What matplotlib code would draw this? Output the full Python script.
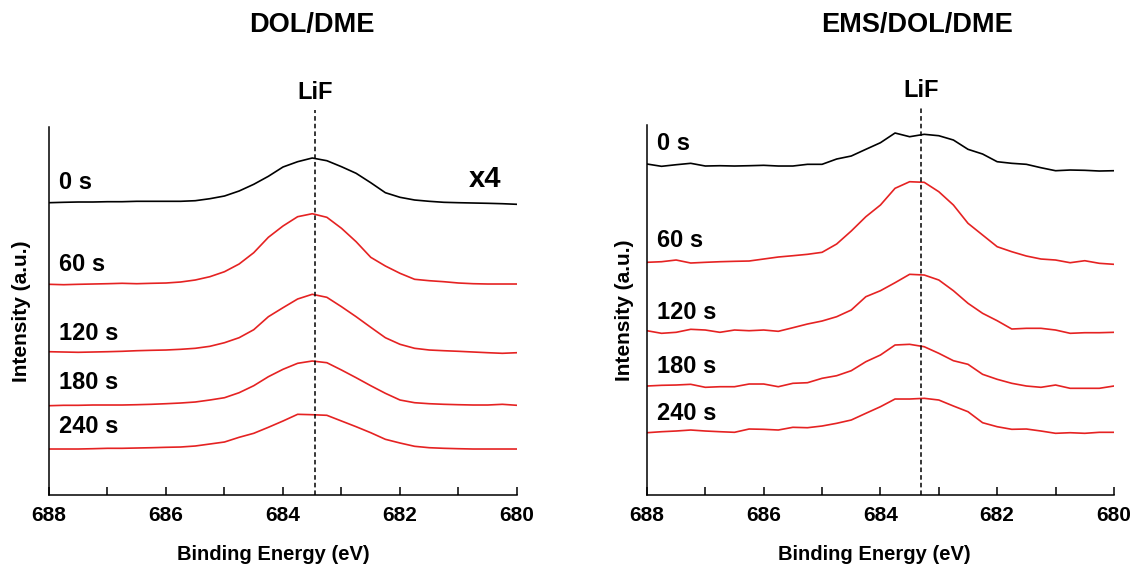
import matplotlib.pyplot as plt
import numpy as np

plt.rcParams['font.family'] = ['Liberation Sans', 'DejaVu Sans']
plt.rcParams['font.weight'] = 'bold'

# binding energy grid (eV), 0.25 eV step
energy = np.linspace(688, 680, 33)

labels = ['0 s', '60 s', '120 s', '180 s', '240 s']

# DOL/DME spectra (stacked, arb. units)
dd_0s = [292.3, 292.7, 293.0, 293.0, 293.3, 293.3, 293.7, 293.7, 293.7, 293.7, 294.3, 296.3, 299.0, 304.0, 310.7, 318.7, 328.0,
         333.3, 337.0, 334.3, 328.3, 321.7, 312.3, 302.3, 297.7, 295.0, 293.7, 292.7, 292.3, 292.0, 291.7, 291.3, 290.7]
dd_60s = [210.7, 210.3, 210.7, 211.0, 211.3, 211.7, 211.3, 211.7, 212.0, 213.0, 215.0, 218.3, 223.3, 231.0, 242.3, 257.7, 269.0,
          278.3, 281.3, 277.7, 266.7, 253.3, 237.7, 229.0, 221.7, 215.7, 214.3, 213.3, 212.0, 211.3, 211.0, 211.0, 211.0]
dd_120s = [143.3, 143.0, 142.7, 143.0, 143.3, 143.7, 144.3, 144.7, 145.0, 145.7, 146.7, 148.7, 152.3, 157.3, 165.3, 178.3, 187.3,
           196.0, 200.7, 197.7, 188.3, 178.3, 167.7, 157.3, 150.7, 146.7, 145.0, 144.3, 143.7, 143.0, 142.3, 141.7, 142.3]
dd_180s = [89.3, 89.7, 89.7, 90.0, 90.0, 90.0, 90.3, 90.7, 91.3, 92.0, 93.0, 95.0, 97.3, 102.3, 109.3, 118.3, 125.7,
           131.7, 134.0, 132.3, 125.0, 117.3, 109.3, 101.7, 95.0, 92.3, 91.3, 90.7, 90.3, 90.0, 90.0, 90.7, 89.7]
dd_240s = [46.0, 46.0, 46.0, 46.3, 46.7, 46.7, 47.0, 47.3, 47.7, 48.0, 49.0, 51.0, 53.0, 57.7, 61.7, 67.7, 74.0,
           80.7, 80.3, 79.7, 74.0, 68.3, 62.3, 55.7, 52.0, 48.7, 47.3, 46.7, 46.3, 46.0, 46.0, 46.0, 46.0]

# EMS/DOL/DME spectra
ems_0s = [331.0, 328.7, 330.3, 331.7, 329.0, 329.3, 329.0, 329.3, 329.7, 329.0, 329.0, 330.7, 330.7, 336.0, 339.0, 345.7, 352.3,
          362.0, 358.3, 360.7, 359.3, 355.0, 345.7, 341.0, 333.3, 331.7, 330.7, 327.3, 324.3, 325.0, 324.7, 324.0, 324.3]
ems_60s = [232.7, 233.3, 235.0, 232.0, 232.7, 233.3, 233.7, 234.0, 236.0, 238.0, 239.3, 240.7, 242.7, 251.0, 264.0, 278.3, 290.0,
           306.7, 313.3, 312.7, 303.3, 290.0, 271.7, 260.0, 248.3, 243.3, 239.0, 236.0, 235.0, 232.3, 234.3, 231.7, 230.7]
ems_120s = [164.3, 161.7, 162.7, 165.7, 165.0, 162.7, 165.0, 164.3, 165.0, 163.7, 167.3, 171.0, 174.0, 178.3, 185.0, 198.3, 204.3,
            212.3, 220.7, 220.0, 215.0, 204.3, 191.7, 181.7, 174.3, 166.0, 166.7, 166.7, 165.0, 161.7, 162.3, 162.3, 162.7]
ems_180s = [109.0, 109.7, 110.0, 110.7, 107.7, 108.3, 108.3, 111.0, 111.0, 108.3, 111.7, 112.3, 116.7, 119.3, 124.3, 133.3, 140.0,
            150.0, 150.7, 148.3, 141.7, 134.3, 130.7, 120.7, 115.7, 111.7, 109.0, 107.7, 110.0, 106.7, 106.7, 106.7, 109.0]
ems_240s = [62.3, 63.3, 64.0, 65.0, 64.0, 63.3, 62.7, 66.0, 65.7, 65.0, 67.7, 67.3, 69.0, 71.7, 75.0, 81.7, 88.3,
            96.0, 96.0, 96.7, 95.0, 89.0, 83.3, 72.3, 68.3, 65.7, 66.0, 64.0, 61.7, 62.3, 61.7, 62.7, 62.7]

dd_label_y = [313, 231, 162, 113, 69]
ems_label_y = [352, 255, 183, 129, 82]
lif_dd = 683.45
lif_ems = 683.3

colors = ['black', '#e52222', '#e52222', '#e52222', '#e52222']

fig = plt.figure(figsize=(11.34, 5.68), dpi=100)
ax1 = fig.add_axes([0.0432, 0.1285, 0.4127, 0.6479])
ax2 = fig.add_axes([0.5705, 0.1285, 0.4118, 0.6514])


def plot_panel(ax, spectra, label_y, lif, ytop, ylabelpad, xlab_x):
    for s, c in zip(spectra, colors):
        ax.plot(energy, s, color=c, lw=1.2)
    for lab, ly in zip(labels, label_y):
        ax.text(687.83, ly, lab, ha='left', va='center', fontsize=17, fontweight='bold')
    ax.plot([lif, lif], [0, ytop + 17], color='black', lw=1.1, ls=(0, (3, 2)), clip_on=False)
    ax.text(lif, ytop + 35, 'LiF', ha='center', va='center', fontsize=17, fontweight='bold')
    ax.set_xlim(688, 680)
    ax.set_ylim(0, ytop)
    ax.set_xticks([688, 686, 684, 682, 680])
    ax.set_xticks([687, 685, 683, 681], minor=True)
    ax.set_yticks([])
    ax.tick_params(axis='x', which='both', direction='in', length=6, width=1.1, labelsize=15, pad=8)
    for t in ax.get_xticklabels():
        t.set_fontweight('bold')
    ax.spines['top'].set_visible(False)
    ax.spines['right'].set_visible(False)
    ax.spines['left'].set_linewidth(1.1)
    ax.spines['bottom'].set_linewidth(1.1)
    ax.set_xlabel('Binding Energy (eV)', fontsize=14.5, fontweight='bold', labelpad=14)
    ax.xaxis.label.set_x(xlab_x)
    ax.set_ylabel('Intensity (a.u.)', fontsize=15, fontweight='bold', labelpad=ylabelpad)


plot_panel(ax1, [dd_0s, dd_60s, dd_120s, dd_180s, dd_240s], dd_label_y, lif_dd, 368, 13, 0.48)
plot_panel(ax2, [ems_0s, ems_60s, ems_120s, ems_180s, ems_240s], ems_label_y, lif_ems, 370, 9, 0.487)

ax1.text(680.55, 316, 'x4', ha='center', va='center', fontsize=21, fontweight='bold')

fig.text(312 / 1134, 1 - 25 / 568, 'DOL/DME', ha='center', va='center', fontsize=19.5, fontweight='bold')
fig.text(917 / 1134, 1 - 25 / 568, 'EMS/DOL/DME', ha='center', va='center', fontsize=19.5, fontweight='bold')

plt.savefig('out.png', dpi=100)
